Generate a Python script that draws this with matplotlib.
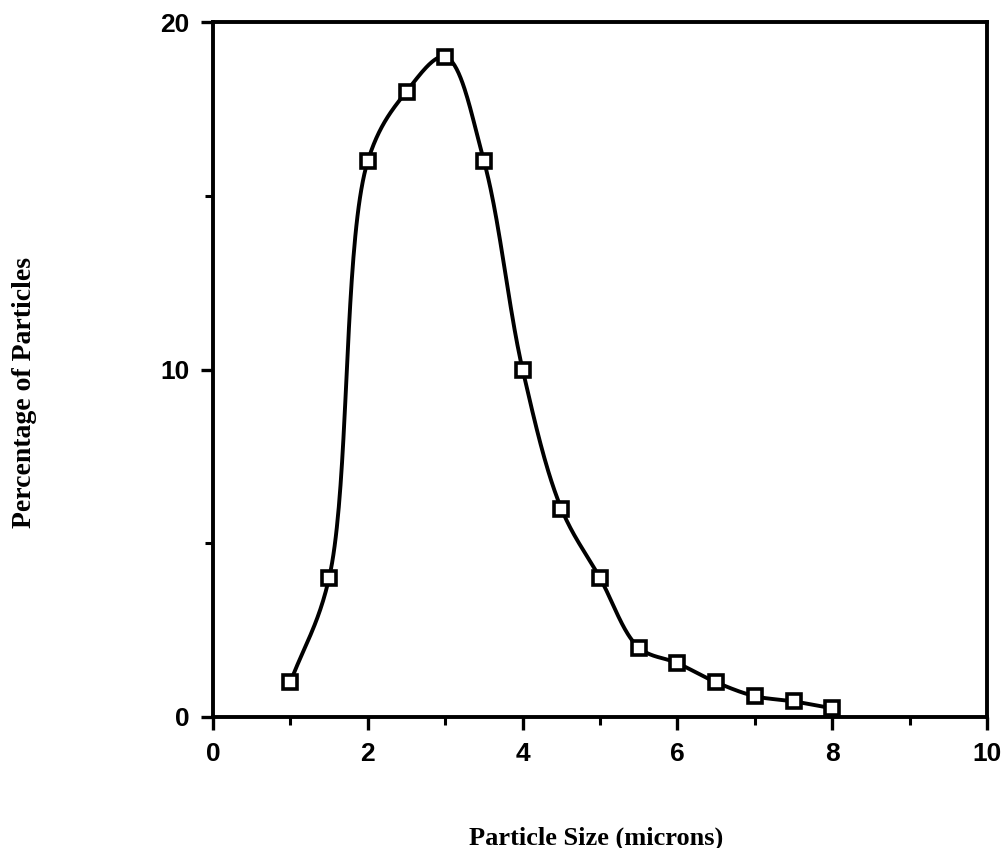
import numpy as np
import matplotlib
matplotlib.use("Agg")
import matplotlib.pyplot as plt

size_microns = [1.0, 1.5, 2.0, 2.5, 3.0, 3.5, 4.0, 4.5, 5.0, 5.5, 6.0, 6.5, 7.0, 7.5, 8.0]
percentage = [1.0, 4.0, 16.0, 18.0, 19.0, 16.0, 10.0, 6.0, 4.0, 2.0, 1.55, 1.0, 0.6, 0.45, 0.25]

x_ticks = [0, 2, 4, 6, 8, 10]
y_ticks = [0, 10, 20]


def centripetal_cr(xs, ys, sx=77.4, sy=34.85, n=40, alpha=0.5):
    """Smooth drawing path through the data points (centripetal Catmull-Rom)."""
    P = np.column_stack([np.asarray(xs, float) * sx, np.asarray(ys, float) * sy])
    P = np.vstack([2 * P[0] - P[1], P, 2 * P[-1] - P[-2]])
    out = []
    for i in range(1, len(P) - 2):
        p0, p1, p2, p3 = P[i - 1], P[i], P[i + 1], P[i + 2]
        t0 = 0.0
        t1 = t0 + np.linalg.norm(p1 - p0) ** alpha
        t2 = t1 + np.linalg.norm(p2 - p1) ** alpha
        t3 = t2 + np.linalg.norm(p3 - p2) ** alpha
        for t in np.linspace(t1, t2, n, endpoint=False):
            a1 = (t1 - t) / (t1 - t0) * p0 + (t - t0) / (t1 - t0) * p1
            a2 = (t2 - t) / (t2 - t1) * p1 + (t - t1) / (t2 - t1) * p2
            a3 = (t3 - t) / (t3 - t2) * p2 + (t - t2) / (t3 - t2) * p3
            b1 = (t2 - t) / (t2 - t0) * a1 + (t - t0) / (t2 - t0) * a2
            b2 = (t3 - t) / (t3 - t1) * a2 + (t - t1) / (t3 - t1) * a3
            c = (t2 - t) / (t2 - t1) * b1 + (t - t1) / (t2 - t1) * b2
            out.append(c)
    out.append(P[-2])
    out = np.array(out)
    return out[:, 0] / sx, out[:, 1] / sy


fig = plt.figure(figsize=(10.06, 8.48), dpi=100)
ax = fig.add_axes([213 / 1006, 1 - 717 / 848, 774 / 1006, 695 / 848])

cx, cy = centripetal_cr(size_microns, percentage)
ax.plot(cx, cy, color="black", lw=2.8, zorder=2, solid_joinstyle="round")
ax.plot(size_microns, percentage, linestyle="none", marker="s", markersize=10,
        markerfacecolor="white", markeredgecolor="black", markeredgewidth=2.6, zorder=3)

ax.set_xlim(0, 10)
ax.set_ylim(0, 20)
ax.set_xticks(x_ticks)
ax.set_xticks(np.arange(0, 11, 1), minor=True)
ax.set_yticks(y_ticks)
ax.set_yticks([5, 15], minor=True)
ax.set_xticklabels([str(v) for v in x_ticks], fontfamily="Liberation Sans", fontweight="bold", fontsize=19)
ax.set_yticklabels([str(v) for v in y_ticks], fontfamily="Liberation Sans", fontweight="bold", fontsize=19)
ax.tick_params(which="major", direction="out", width=2.4, length=9, color="black")
ax.tick_params(which="minor", direction="out", width=2.2, length=6, color="black")
ax.tick_params(axis="x", which="major", pad=9)
ax.tick_params(axis="y", which="major", pad=8)
for s in ax.spines.values():
    s.set_linewidth(2.8)
    s.set_color("black")

fig.text(596 / 1006, 1 - 838 / 848, "Particle Size (microns)", ha="center", va="center",
         fontfamily="Liberation Serif", fontweight="bold", fontsize=19)
fig.text(25 / 1006, 1 - 392 / 848, "Percentage of Particles", ha="center", va="center",
         rotation=90, fontfamily="Liberation Serif", fontweight="bold", fontsize=20)

fig.savefig("out.png", dpi=100)
